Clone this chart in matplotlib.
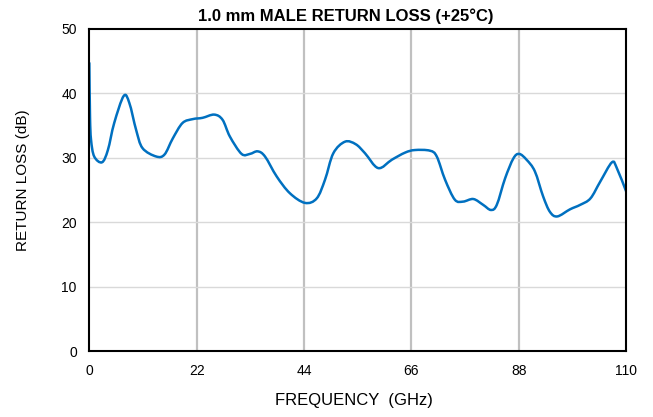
import matplotlib.pyplot as plt
from matplotlib.path import Path
from matplotlib.patches import PathPatch

plt.rcParams['font.family'] = ['Liberation Sans', 'DejaVu Sans']

# frequency (GHz) and return loss (dB)
freq_ghz = [0.0, 0.14, 0.35, 1.0, 2.6, 3.8, 5.1, 7.05, 8.2, 9.6, 10.9, 13.7, 15.4,
            17.1, 19.1, 21.2, 23.2, 25.6, 27.3, 28.8, 31.2, 32.9, 34.5, 36.0,
            38.4, 41.1, 44.2, 46.6, 48.3, 50.0, 52.4, 54.6, 56.5, 59.2, 62.0,
            64.7, 66.7, 69.8, 71.2, 72.9, 74.9, 76.6, 78.7, 80.7, 82.3, 83.5,
            85.2, 86.9, 88.1, 89.6, 91.3, 93.0, 94.4, 95.9, 98.5, 100.6, 102.7,
            104.7, 107.1, 108.1, 110.0]
return_loss = [44.7, 36.4, 32.8, 30.2, 29.3, 31.2, 35.4, 39.6, 38.5, 34.3, 31.5,
               30.2, 30.5, 33.0, 35.4, 36.0, 36.2, 36.7, 35.9, 33.3, 30.6, 30.6,
               31.0, 30.2, 27.1, 24.5, 23.0, 23.7, 26.6, 30.7, 32.5, 32.1, 30.7,
               28.4, 29.7, 30.8, 31.2, 31.1, 30.2, 26.6, 23.5, 23.2, 23.6, 22.7,
               21.9, 22.7, 26.8, 29.9, 30.6, 29.7, 27.9, 24.0, 21.6, 20.9, 22.0,
               22.7, 23.7, 26.3, 29.3, 28.4, 24.8]

x_ticks = [0, 22, 44, 66, 88, 110]
y_ticks = [0, 10, 20, 30, 40, 50]


def smooth_path(xs, ys):
    """ Smoothed line (like Excel's) as cubic Bezier segments through the points. """
    pts = list(zip(xs, ys))
    n = len(pts)
    verts = [pts[0]]
    codes = [Path.MOVETO]
    for i in range(n - 1):
        p0 = pts[max(i - 1, 0)]
        p1 = pts[i]
        p2 = pts[i + 1]
        p3 = pts[min(i + 2, n - 1)]
        c1 = (p1[0] + (p2[0] - p0[0]) / 6, p1[1] + (p2[1] - p0[1]) / 6)
        c2 = (p2[0] - (p3[0] - p1[0]) / 6, p2[1] - (p3[1] - p1[1]) / 6)
        verts += [c1, c2, p2]
        codes += [Path.CURVE4] * 3
    return Path(verts, codes)


def main():
    fig = plt.figure(figsize=(6.53, 4.17), dpi=100)
    ax = fig.add_axes([0.1368, 0.158, 0.822, 0.7727])

    # grid: vertical lines darker/thicker than horizontal ones
    for xv in x_ticks[1:-1]:
        ax.axvline(xv, color='#c0c0c0', lw=1.6, zorder=1)
    for yv in y_ticks[1:-1]:
        ax.axhline(yv, color='#d9d9d9', lw=1.0, zorder=1)

    curve = PathPatch(smooth_path(freq_ghz, return_loss), facecolor='none',
                      edgecolor='#0070c0', lw=1.8, zorder=3, capstyle='round',
                      joinstyle='round')
    ax.add_patch(curve)
    curve.set_clip_path(ax.patch)

    ax.set_xlim(0, 110)
    ax.set_ylim(0, 50)
    ax.set_xticks(x_ticks)
    ax.set_yticks(y_ticks)
    ax.tick_params(length=0, labelsize=10, pad=9)
    for sp in ax.spines.values():
        sp.set_linewidth(1.5)
        sp.set_color('black')
        sp.set_zorder(4)

    fig.text(354 / 653, 1 - 401 / 417, "FREQUENCY  (GHz)", ha='center',
             va='center', fontsize=12)
    fig.text(22.7 / 653, 1 - 180 / 417, "RETURN LOSS (dB)", ha='center',
             va='center', rotation=90, fontsize=11)
    fig.text(346 / 653, 1 - 16.5 / 417, "1.0 mm MALE RETURN LOSS (+25°C)",
             ha='center', va='center', fontsize=12, fontweight='bold')

    fig.savefig("out.png", dpi=100)


if __name__ == "__main__":
    main()
